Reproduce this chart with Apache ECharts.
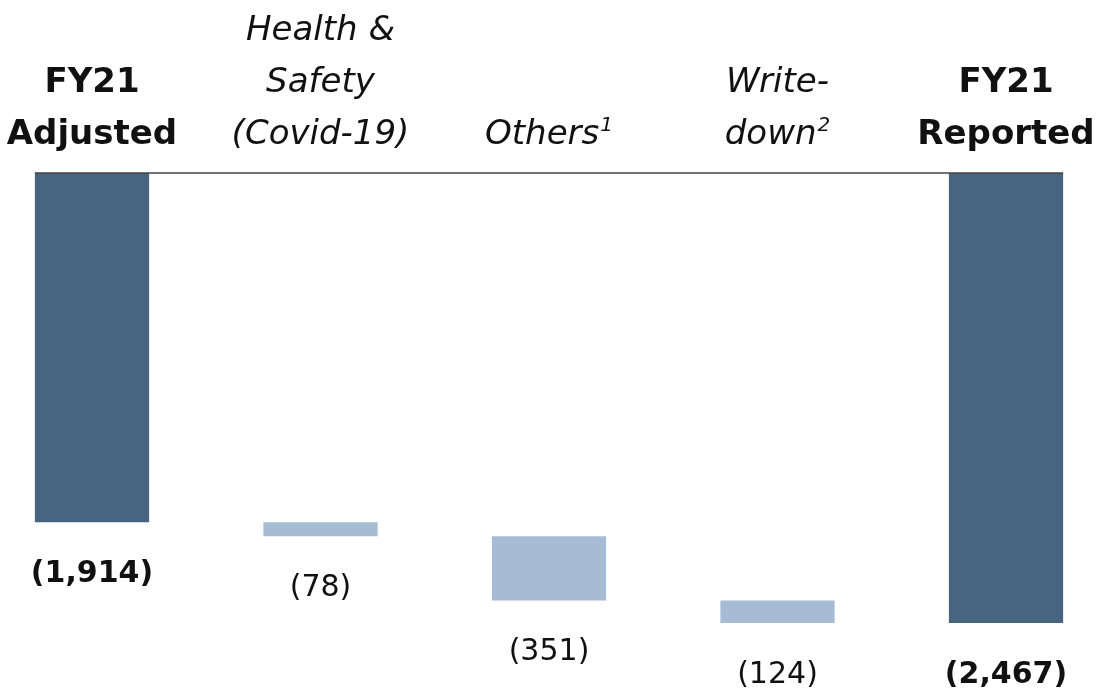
<!DOCTYPE html>
<html>
<head>
<meta charset="utf-8">
<script src="https://cdn.jsdelivr.net/npm/echarts@6/dist/echarts.min.js"></script>
<style>
  html, body { margin: 0; padding: 0; background: #ffffff; }
  #chart { width: 1099px; height: 698px; }
</style>
</head>
<body>
<div id="chart"></div>
<script>
// Bridge from FY21 adjusted to FY21 reported result
const categories = ['FY21\nAdjusted', 'Health &\nSafety\n(Covid-19)', 'Others', 'Write-\ndown', 'FY21\nReported'];
const footnotes = ['', '', '1', '2', ''];
const values = [-1914, -78, -351, -124, -2467];
const isTotal = [true, false, false, false, true];

const DARK = '#476580';
const LIGHT = '#A6BCD4';
const FONT = 'DejaVu Sans';

// Invisible base for each step: totals start at zero, changes start at the running total
const bases = [];
let running = 0;
values.forEach((v, i) => {
  if (isTotal[i]) { bases.push(0); running = v; }
  else { bases.push(running); running += v; }
});

const fmt = v => '(' + Math.abs(v).toLocaleString('en-US') + ')';

const chart = echarts.init(document.getElementById('chart'), null, { renderer: 'canvas' });

const option = {
  animation: false,
  backgroundColor: '#ffffff',
  // category centres sit on the grid edges (boundaryGap: false), bars overhang by half a bar
  grid: { left: 92, right: 93, top: 173, bottom: 75, containLabel: false },
  xAxis: {
    type: 'category',
    position: 'top',
    boundaryGap: false,
    data: categories,
    axisLine: { show: false },
    axisTick: { show: false },
    axisLabel: {
      interval: 0,
      margin: 12,
      formatter: (val, idx) => {
        const lines = val.split('\n');
        const st = isTotal[idx] ? 'b' : 'i';
        return lines.map((l, k) => {
          let s = '{' + st + '|' + l + '}';
          if (k === lines.length - 1 && footnotes[idx]) s += '{sup|' + footnotes[idx] + '}';
          return s;
        }).join('\n');
      },
      rich: {
        b: { fontFamily: FONT, fontSize: 34, fontWeight: 'bold', color: '#111', lineHeight: 52 },
        i: { fontFamily: FONT, fontSize: 34, fontStyle: 'italic', color: '#111', lineHeight: 52 },
        sup: { fontFamily: FONT, fontSize: 20, fontStyle: 'italic', color: '#111', lineHeight: 52, padding: [0, 0, 18, 1] }
      }
    }
  },
  yAxis: {
    type: 'value',
    min: -2467,
    max: 0,
    show: false,
    splitLine: { show: false }
  },
  series: [
    {
      type: 'bar',
      stack: 'bridge',
      barWidth: '50%',
      clip: false,
      itemStyle: { color: 'transparent' },
      emphasis: { disabled: true },
      data: bases
    },
    {
      type: 'bar',
      stack: 'bridge',
      barWidth: '50%',
      clip: false,
      emphasis: { disabled: true },
      data: values.map((v, i) => ({
        value: v,
        itemStyle: { color: isTotal[i] ? DARK : LIGHT },
        label: {
          show: true,
          position: 'bottom',
          distance: 37,
          fontFamily: FONT,
          fontSize: 30,
          fontWeight: isTotal[i] ? 'bold' : 'normal',
          color: '#111',
          formatter: () => fmt(v)
        }
      }))
    }
  ]
};

chart.setOption(option);

// Zero line spanning from the left edge of the first bar to the right edge of the last
const p0 = chart.convertToPixel({ gridIndex: 0 }, [0, 0]);
const p1 = chart.convertToPixel({ gridIndex: 0 }, [categories.length - 1, 0]);
const halfBar = (p1[0] - p0[0]) / (categories.length - 1) / 4;
chart.setOption({
  graphic: [{
    type: 'line',
    shape: { x1: p0[0] - halfBar, y1: p0[1], x2: p1[0] + halfBar, y2: p1[1] },
    style: { stroke: '#444', lineWidth: 1.5 },
    z: 10
  }]
});
</script>
</body>
</html>
